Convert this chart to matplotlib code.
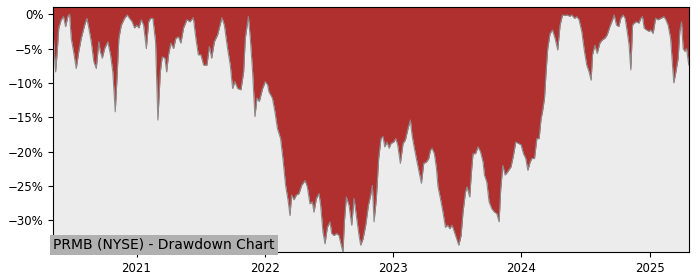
import numpy as np
import pandas as pd
import matplotlib
matplotlib.use('Agg')
import matplotlib.pyplot as plt
from matplotlib.ticker import PercentFormatter
import matplotlib.dates as mdates

# drawdown readings: time as decimal year, drawdown in percent
years = [
    2020.349, 2020.369, 2020.380, 2020.394, 2020.413, 2020.431, 2020.447, 2020.465, 2020.478, 2020.491,
    2020.509, 2020.530, 2020.550, 2020.569, 2020.595, 2020.613, 2020.628, 2020.647, 2020.667, 2020.686,
    2020.706, 2020.717, 2020.733, 2020.751, 2020.776, 2020.797, 2020.815, 2020.834, 2020.850, 2020.862,
    2020.881, 2020.906, 2020.928, 2020.945, 2020.966, 2020.984, 2021.002, 2021.018, 2021.037, 2021.055,
    2021.076, 2021.094, 2021.109, 2021.127, 2021.148, 2021.166, 2021.185, 2021.200, 2021.221, 2021.234,
    2021.249, 2021.267, 2021.288, 2021.306, 2021.327, 2021.345, 2021.366, 2021.392, 2021.415, 2021.442,
    2021.462, 2021.481, 2021.501, 2021.522, 2021.548, 2021.567, 2021.585, 2021.606, 2021.631, 2021.665,
    2021.684, 2021.709, 2021.730, 2021.748, 2021.766, 2021.787, 2021.813, 2021.834, 2021.847, 2021.871,
    2021.886, 2021.904, 2021.922, 2021.938, 2021.956, 2021.982, 2022.003, 2022.021, 2022.031, 2022.058,
    2022.078, 2022.097, 2022.122, 2022.140, 2022.161, 2022.182, 2022.195, 2022.208, 2022.226, 2022.245,
    2022.265, 2022.286, 2022.312, 2022.330, 2022.351, 2022.369, 2022.382, 2022.401, 2022.421, 2022.434,
    2022.452, 2022.468, 2022.486, 2022.507, 2022.520, 2022.538, 2022.559, 2022.577, 2022.598, 2022.608,
    2022.619, 2022.634, 2022.655, 2022.676, 2022.694, 2022.712, 2022.733, 2022.746, 2022.764, 2022.785,
    2022.806, 2022.824, 2022.837, 2022.850, 2022.868, 2022.886, 2022.904, 2022.920, 2022.933, 2022.951,
    2022.967, 2022.982, 2023.003, 2023.019, 2023.034, 2023.055, 2023.076, 2023.094, 2023.115, 2023.133,
    2023.146, 2023.164, 2023.185, 2023.204, 2023.219, 2023.237, 2023.258, 2023.276, 2023.289, 2023.302,
    2023.320, 2023.336, 2023.348, 2023.367, 2023.387, 2023.406, 2023.424, 2023.440, 2023.458, 2023.476,
    2023.497, 2023.510, 2023.528, 2023.543, 2023.562, 2023.574, 2023.595, 2023.609, 2023.621, 2023.640,
    2023.660, 2023.679, 2023.699, 2023.710, 2023.728, 2023.746, 2023.767, 2023.788, 2023.806, 2023.824,
    2023.837, 2023.853, 2023.871, 2023.892, 2023.917, 2023.936, 2023.954, 2023.975, 2023.995, 2024.014,
    2024.032, 2024.048, 2024.066, 2024.079, 2024.100, 2024.118, 2024.136, 2024.151, 2024.162, 2024.178,
    2024.190, 2024.203, 2024.221, 2024.240, 2024.260, 2024.281, 2024.299, 2024.318, 2024.336, 2024.352,
    2024.375, 2024.390, 2024.412, 2024.429, 2024.447, 2024.468, 2024.489, 2024.507, 2024.525, 2024.541,
    2024.552, 2024.570, 2024.588, 2024.609, 2024.630, 2024.648, 2024.666, 2024.687, 2024.708, 2024.720,
    2024.739, 2024.757, 2024.772, 2024.790, 2024.806, 2024.822, 2024.837, 2024.850, 2024.864, 2024.876,
    2024.895, 2024.913, 2024.928, 2024.941, 2024.954, 2024.973, 2024.993, 2025.006, 2025.024, 2025.043,
    2025.063, 2025.084, 2025.108, 2025.123, 2025.141, 2025.160, 2025.175, 2025.185, 2025.201, 2025.219,
    2025.232, 2025.245, 2025.258, 2025.271, 2025.284, 2025.302,
]
drawdown = [
    -2.3, -8.4, -5.9, -2.0, -0.8, -0.35, -1.8, -0.3, 0.0, -3.5,
    -5.4, -7.9, -5.4, -3.5, -1.6, -0.6, -2.0, -4.0, -6.9, -7.9,
    -4.0, -5.4, -6.4, -5.0, -4.0, -5.9, -8.4, -14.2, -8.4, -3.5,
    -1.6, -0.6, -0.1, -0.6, -1.1, -2.0, -1.6, -2.0, -0.8, -1.6,
    -5.0, -1.1, -0.6, -0.6, -4.0, -15.4, -8.4, -6.2, -6.4, -8.4,
    -5.9, -4.2, -5.0, -3.5, -3.3, -4.2, -2.0, -0.8, -1.1, -0.5,
    -3.5, -5.9, -5.9, -7.4, -7.4, -4.7, -6.4, -4.0, -3.0, -0.5,
    -1.6, -5.0, -7.4, -10.8, -9.8, -10.8, -11.0, -8.4, -3.5, -0.35,
    -3.5, -8.4, -14.9, -12.2, -12.7, -10.8, -9.8, -10.3, -11.3, -12.2,
    -14.2, -16.6, -18.1, -21.0, -24.9, -27.3, -29.3, -26.3, -27.0, -26.3,
    -26.1, -24.9, -24.2, -25.1, -27.6, -27.3, -28.8, -26.8, -26.1, -27.8,
    -31.7, -33.4, -31.0, -30.2, -31.9, -32.2, -31.9, -32.2, -33.9, -34.6,
    -30.2, -26.6, -27.8, -30.7, -26.8, -29.3, -32.2, -33.6, -32.7, -30.7,
    -27.8, -26.3, -24.9, -30.2, -26.8, -21.0, -18.1, -17.8, -19.3, -18.6,
    -19.5, -18.8, -18.6, -18.1, -19.0, -21.7, -18.8, -18.3, -16.6, -15.4,
    -17.6, -19.5, -21.5, -23.2, -24.6, -21.7, -21.5, -21.0, -19.8, -19.5,
    -20.3, -22.4, -25.1, -26.8, -28.8, -31.0, -30.7, -31.2, -30.7, -31.7,
    -32.9, -33.6, -32.2, -28.8, -25.9, -25.1, -26.6, -22.9, -20.3, -20.3,
    -19.3, -20.0, -21.5, -23.4, -24.4, -27.3, -28.3, -28.8, -29.0, -30.2,
    -25.4, -22.0, -23.4, -22.9, -22.2, -20.5, -18.6, -18.8, -19.0, -20.3,
    -21.0, -22.7, -21.5, -21.0, -21.0, -18.1, -18.1, -15.2, -14.2, -12.2,
    -8.4, -5.0, -2.8, -2.3, -3.5, -5.2, -1.6, -0.1, -0.2, -0.1,
    -0.3, -0.1, -0.6, -0.35, -0.8, -2.5, -5.4, -7.4, -8.4, -9.6,
    -5.9, -4.5, -5.7, -4.2, -3.7, -3.5, -3.0, -1.8, -0.8, -0.1,
    -1.6, -1.8, -0.6, -0.1, -0.6, -2.5, -4.5, -8.1, -1.6, -1.3,
    -1.1, -1.3, -0.6, -0.35, -2.0, -2.3, -2.5, -2.3, -2.8, -0.6,
    -0.8, -0.6, -0.35, -0.8, -1.6, -3.5, -7.4, -10.0, -8.4, -6.4,
    -2.5, -1.1, -5.0, -5.4, -5.0, -7.4,
]
title = 'PRMB (NYSE) - Drawdown Chart'

# decimal years -> timestamps
yrs = np.array(years)
dates = pd.to_datetime('2021-01-01') + pd.to_timedelta((yrs - 2021) * 365.25, unit='D')
dd = np.array(drawdown)

top = 1.05
fig, ax = plt.subplots(figsize=(7, 2.8), dpi=100)
fig.subplots_adjust(left=0.0757, right=0.984, top=0.975, bottom=0.1)
ax.set_facecolor('#ececec')

ax.fill_between(dates, dd, top, color='#b03030', linewidth=0)
ax.plot(dates, dd, color='#8a8a8a', linewidth=0.8)

ax.set_xlim(dates[0], dates[-1])
ax.set_ylim(dd.min(), top)
ax.set_yticks([0, -5, -10, -15, -20, -25, -30])
ax.yaxis.set_major_formatter(PercentFormatter(100, decimals=0))
ax.xaxis.set_major_locator(mdates.YearLocator())
ax.xaxis.set_major_formatter(mdates.DateFormatter('%Y'))
ax.tick_params(labelsize=8.5)

ax.text(0.0, 0.0, title, transform=ax.transAxes, fontsize=10, ha='left', va='bottom',
        bbox=dict(facecolor='#b0b0b0', edgecolor='none', pad=2.5))

plt.savefig('out.png')
